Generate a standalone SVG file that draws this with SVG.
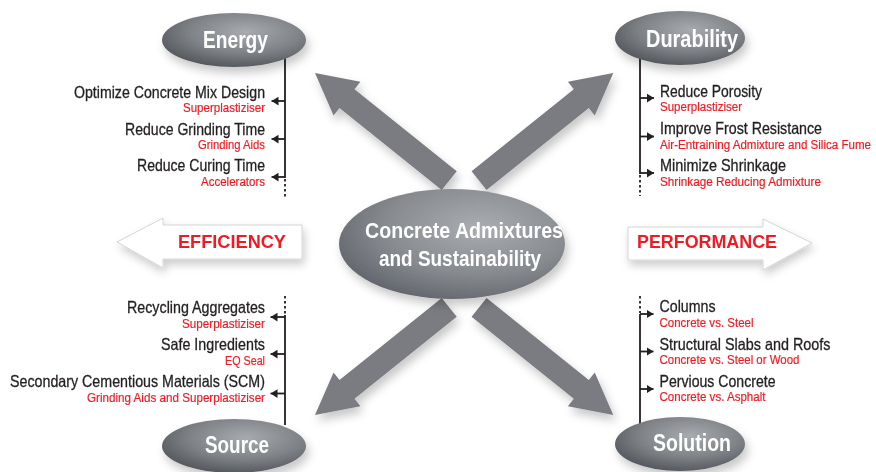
<svg xmlns="http://www.w3.org/2000/svg" width="876" height="472" viewBox="0 0 876 472">
  <defs>
    <radialGradient id="gNode" cx="58%" cy="35%" r="70%">
      <stop offset="0" stop-color="#a7abb0"/>
      <stop offset="0.55" stop-color="#7f8388"/>
      <stop offset="1" stop-color="#4f5358"/>
    </radialGradient>
    <radialGradient id="gCenter" cx="62%" cy="35%" r="70%">
      <stop offset="0" stop-color="#a9adb2"/>
      <stop offset="0.6" stop-color="#878b90"/>
      <stop offset="1" stop-color="#62666c"/>
    </radialGradient>
    <filter id="sh" x="-30%" y="-30%" width="170%" height="180%">
      <feDropShadow dx="3" dy="6" stdDeviation="5" flood-color="#000" flood-opacity="0.22"/>
    </filter>
    <filter id="shs" x="-30%" y="-30%" width="170%" height="180%">
      <feDropShadow dx="2" dy="5" stdDeviation="4" flood-color="#000" flood-opacity="0.2"/>
    </filter>
    <marker id="tk" viewBox="0 0 8 10" refX="8" refY="5" markerWidth="7" markerHeight="10" markerUnits="userSpaceOnUse" orient="auto">
      <path d="M0,0 L8,5 L0,10 z" fill="#231f20"/>
    </marker>
    <polygon id="bigArrow" points="0,0 41,-21.5 41,-12 172,-12 172,12 41,12 41,21.5"/>
  </defs>
  <style>
    .t { font-family: "Liberation Sans", Arial, sans-serif; font-size: 16.5px; fill: #231f20; stroke: #231f20; stroke-width: 0.3; }
    .r { font-family: "Liberation Sans", Arial, sans-serif; font-size: 12.5px; fill: #ed1c24; stroke: #ed1c24; stroke-width: 0.2; }
    .h { font-family: "Liberation Sans", Arial, sans-serif; font-size: 23px; font-weight: bold; fill: #ffffff; text-anchor: middle; }
    .c { font-family: "Liberation Sans", Arial, sans-serif; font-size: 22.5px; font-weight: bold; fill: #ffffff; text-anchor: middle; }
    .w { font-family: "Liberation Sans", Arial, sans-serif; font-size: 18px; font-weight: bold; fill: #ed1c24; }
    .ln { stroke: #231f20; stroke-width: 1.8; fill: none; }
    .dt { stroke: #231f20; stroke-width: 1.8; fill: none; stroke-dasharray: 2.5 2.5; }
    .tick { stroke: #231f20; stroke-width: 1.8; fill: none; marker-end: url(#tk); }
    .ga { fill: #7a7c81; }
    .wa { fill: #ffffff; stroke: #d4d4d4; stroke-width: 1; }
    .end { text-anchor: end; }
  </style>
  <rect width="876" height="472" fill="#ffffff"/>

  <g id="connectors">
    <g filter="url(#sh)">
      <use href="#bigArrow" class="ga" transform="translate(315,73) rotate(38.7)"/>
      <use href="#bigArrow" class="ga" transform="translate(613.3,73) rotate(141.3)"/>
      <use href="#bigArrow" class="ga" transform="translate(315,415) rotate(-38.7)"/>
      <use href="#bigArrow" class="ga" transform="translate(613.3,415) rotate(-141.3)"/>
    </g>
    <line class="ln" x1="285" y1="58" x2="285" y2="178"/>
    <line class="dt" x1="285" y1="179" x2="285" y2="197"/>
    <line class="tick" x1="285" y1="101" x2="271.5" y2="101"/>
    <line class="tick" x1="285" y1="139" x2="271.5" y2="139"/>
    <line class="tick" x1="285" y1="177" x2="271.5" y2="177"/>
    <line class="ln" x1="640" y1="58" x2="640" y2="174"/>
    <line class="dt" x1="640" y1="175" x2="640" y2="196"/>
    <line class="tick" x1="640" y1="98" x2="654" y2="98"/>
    <line class="tick" x1="640" y1="136.5" x2="654" y2="136.5"/>
    <line class="tick" x1="640" y1="173" x2="654" y2="173"/>
    <line class="dt" x1="285" y1="296" x2="285" y2="314"/>
    <line class="ln" x1="285" y1="315" x2="285" y2="425"/>
    <line class="tick" x1="285" y1="317" x2="270.5" y2="317"/>
    <line class="tick" x1="285" y1="354" x2="270.5" y2="354"/>
    <line class="tick" x1="285" y1="393.5" x2="270.5" y2="393.5"/>
    <line class="dt" x1="640" y1="296" x2="640" y2="313"/>
    <line class="ln" x1="640" y1="314" x2="640" y2="425"/>
    <line class="tick" x1="640" y1="314" x2="653.5" y2="314"/>
    <line class="tick" x1="640" y1="351.5" x2="653.5" y2="351.5"/>
    <line class="tick" x1="640" y1="389" x2="653.5" y2="389"/>
  </g>

  <g id="node-efficiency">
    <polygon class="wa" filter="url(#shs)" points="117,242 163,218 163,225 302,225 302,259 163,259 163,268"/>
    <text class="w" x="178" y="248" textLength="108" lengthAdjust="spacingAndGlyphs">EFFICIENCY</text>
  </g>
  <g id="node-performance">
    <polygon class="wa" filter="url(#shs)" points="628,227 763,227 763,219 812,243 763,270 763,260 628,260"/>
    <text class="w" x="637" y="248" textLength="140" lengthAdjust="spacingAndGlyphs">PERFORMANCE</text>
  </g>

  <g id="node-center">
    <ellipse cx="452" cy="244" rx="113" ry="55" fill="url(#gCenter)" filter="url(#sh)"/>
    <text class="c" x="464" y="238" textLength="198" lengthAdjust="spacingAndGlyphs">Concrete Admixtures</text>
    <text class="c" x="460" y="266" textLength="162" lengthAdjust="spacingAndGlyphs">and Sustainability</text>
  </g>

  <g id="node-energy">
    <ellipse cx="234" cy="40" rx="72" ry="27" fill="url(#gNode)" filter="url(#sh)"/>
    <text class="h" x="235.5" y="48" textLength="65" lengthAdjust="spacingAndGlyphs">Energy</text>
    <text class="t end" x="265" y="98" textLength="191" lengthAdjust="spacingAndGlyphs">Optimize Concrete Mix Design</text>
    <text class="r end" x="265" y="112" textLength="82" lengthAdjust="spacingAndGlyphs">Superplastiziser</text>
    <text class="t end" x="265" y="134.5" textLength="140" lengthAdjust="spacingAndGlyphs">Reduce Grinding Time</text>
    <text class="r end" x="265" y="149" textLength="67" lengthAdjust="spacingAndGlyphs">Grinding Aids</text>
    <text class="t end" x="265" y="171" textLength="128" lengthAdjust="spacingAndGlyphs">Reduce Curing Time</text>
    <text class="r end" x="265" y="185.5" textLength="64" lengthAdjust="spacingAndGlyphs">Accelerators</text>
  </g>

  <g id="node-durability">
    <ellipse cx="680" cy="38" rx="65" ry="27" fill="url(#gNode)" filter="url(#sh)"/>
    <text class="h" x="692" y="46.5" textLength="92" lengthAdjust="spacingAndGlyphs">Durability</text>
    <text class="t" x="660" y="97" textLength="102" lengthAdjust="spacingAndGlyphs">Reduce Porosity</text>
    <text class="r" x="660" y="111" textLength="82" lengthAdjust="spacingAndGlyphs">Superplastiziser</text>
    <text class="t" x="660" y="134" textLength="162" lengthAdjust="spacingAndGlyphs">Improve Frost Resistance</text>
    <text class="r" x="660" y="148.5" textLength="211" lengthAdjust="spacingAndGlyphs">Air-Entraining Admixture and Silica Fume</text>
    <text class="t" x="660" y="171" textLength="126" lengthAdjust="spacingAndGlyphs">Minimize Shrinkage</text>
    <text class="r" x="660" y="185.5" textLength="161" lengthAdjust="spacingAndGlyphs">Shrinkage Reducing Admixture</text>
  </g>

  <g id="node-source">
    <ellipse cx="234" cy="446" rx="72" ry="27" fill="url(#gNode)" filter="url(#sh)"/>
    <text class="h" x="237" y="453" textLength="64" lengthAdjust="spacingAndGlyphs">Source</text>
    <text class="t end" x="265" y="313" textLength="138" lengthAdjust="spacingAndGlyphs">Recycling Aggregates</text>
    <text class="r end" x="265" y="327.5" textLength="83" lengthAdjust="spacingAndGlyphs">Superplastiziser</text>
    <text class="t end" x="265" y="350" textLength="104" lengthAdjust="spacingAndGlyphs">Safe Ingredients</text>
    <text class="r end" x="265" y="365" textLength="40" lengthAdjust="spacingAndGlyphs">EQ Seal</text>
    <text class="t end" x="265" y="387" textLength="255" lengthAdjust="spacingAndGlyphs">Secondary Cementious Materials (SCM)</text>
    <text class="r end" x="265" y="401.5" textLength="178" lengthAdjust="spacingAndGlyphs">Grinding Aids and Superplastiziser</text>
  </g>

  <g id="node-solution">
    <ellipse cx="680" cy="444" rx="65" ry="27" fill="url(#gNode)" filter="url(#sh)"/>
    <text class="h" x="692" y="451" textLength="78" lengthAdjust="spacingAndGlyphs">Solution</text>
    <text class="t" x="659.5" y="312" textLength="56" lengthAdjust="spacingAndGlyphs">Columns</text>
    <text class="r" x="659.5" y="327" textLength="94" lengthAdjust="spacingAndGlyphs">Concrete vs. Steel</text>
    <text class="t" x="659.5" y="349.5" textLength="171" lengthAdjust="spacingAndGlyphs">Structural Slabs and Roofs</text>
    <text class="r" x="659.5" y="364" textLength="140" lengthAdjust="spacingAndGlyphs">Concrete vs. Steel or Wood</text>
    <text class="t" x="659.5" y="387" textLength="116" lengthAdjust="spacingAndGlyphs">Pervious Concrete</text>
    <text class="r" x="659.5" y="401" textLength="106" lengthAdjust="spacingAndGlyphs">Concrete vs. Asphalt</text>
  </g>
</svg>
